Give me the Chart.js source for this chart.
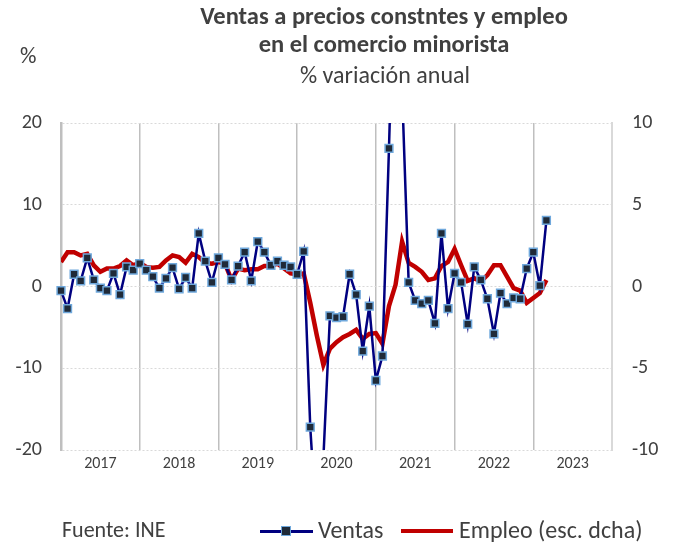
<!DOCTYPE html>
<html>
<head>
<meta charset="utf-8">
<script src="https://cdn.jsdelivr.net/npm/chart.js@4"></script>
<style>
  body { margin: 0; background: #fff; }
  #wrap { position: relative; width: 675px; height: 544px; font-family: Carlito, Calibri, Lato, sans-serif; color: #404040; }
  .txt { position: absolute; white-space: nowrap; line-height: 1; }
  .lg-line { position: absolute; height: 3px; }
</style>
</head>
<body>
<div id="wrap">
  <canvas id="myCanvas" width="675" height="544"></canvas>
  <div class="txt" style="left:0;width:768px;text-align:center;top:4px;font-size:24.5px;font-weight:bold;">Ventas a precios constntes y empleo</div>
  <div class="txt" style="left:0;width:768px;text-align:center;top:32px;font-size:24.5px;font-weight:bold;">en el comercio minorista</div>
  <div class="txt" style="left:0;width:770px;text-align:center;top:63px;font-size:24px;">% variación anual</div>
  <div class="txt" style="left:20px;top:44px;font-size:23px;">%</div>
  <div class="txt" style="left:62px;top:519px;font-size:22px;">Fuente: INE</div>
  <div class="lg-line" style="left:260px;top:530px;width:53px;background:#000080;"></div>
  <div style="position:absolute;left:281px;top:526px;width:8px;height:8px;background:#1f2a38;border:1.5px solid #6fa8dc;"></div>
  <div class="txt" style="left:318px;top:518px;font-size:24px;">Ventas</div>
  <div class="lg-line" style="left:401px;top:529px;width:52px;height:4px;background:#c00000;"></div>
  <div class="txt" style="left:459px;top:518px;font-size:24px;">Empleo (esc. dcha)</div>
</div>
<script>
// % variación anual, mensual desde enero 2017 hasta marzo 2023
const years = ['2017', '2018', '2019', '2020', '2021', '2022', '2023'];

const ventas = [
  -0.5, -2.7, 1.5, 0.7, 3.5, 0.8, -0.2, -0.5, 1.6, -1.0, 2.4, 2.0,
  2.8, 2.0, 1.2, -0.2, 1.0, 2.3, -0.3, 1.1, -0.2, 6.5, 3.1, 0.5,
  3.5, 2.7, 0.8, 2.5, 4.2, 0.7, 5.5, 4.2, 2.6, 3.1, 2.6, 2.4,
  1.5, 4.3, -17.2, -30.0, -21.0, -3.6, -3.8, -3.7, 1.5, -1.0, -7.9, -2.4,
  -11.5, -8.5, 16.9, 45.0, 24.0, 0.5, -1.7, -2.1, -1.7, -4.5, 6.5, -2.7,
  1.6, 0.5, -4.6, 2.4, 0.8, -1.5, -5.8, -0.8, -2.1, -1.4, -1.5, 2.2,
  4.2, 0.1, 8.1
];

// escala derecha
const empleo = [
  1.5, 2.1, 2.1, 1.9, 2.0, 1.3, 0.9, 1.1, 1.1, 1.25, 1.6, 1.3,
  1.45, 1.2, 1.15, 1.2, 1.6, 1.9, 1.8, 1.45, 2.0, 1.8, 1.45, 1.4,
  1.5, 1.4, 0.4, 1.1, 1.0, 1.05, 1.05, 1.25, 1.25, 1.4, 1.1, 0.8,
  0.75, 0.8, -1.0, -3.0, -4.8, -3.8, -3.4, -3.1, -2.9, -2.65, -3.2, -2.9,
  -2.85, -3.5, -1.2, 0.1, 2.75, 1.45, 1.2, 0.9, 0.4, 0.5, 1.25, 1.5,
  2.3, 1.3, 0.35, 0.5, 0.3, 0.7, 1.3, 1.3, 0.6, -0.1, -0.25, -1.0,
  -0.7, -0.4, 0.4
];

const leftTicks = [-20, -10, 0, 10, 20];
const rightTicks = [-10, -5, 0, 5, 10];

const fontFam = 'Carlito, Calibri, Lato, sans-serif';
const ctx = document.getElementById('myCanvas').getContext('2d');

new Chart(ctx, {
  type: 'line',
  data: {
    datasets: [{
      label: 'Ventas',
      data: ventas.map((v, i) => ({ x: i, y: v })),
      yAxisID: 'y',
      borderColor: '#000080',
      borderWidth: 2.5,
      pointStyle: 'rect',
      pointRadius: 5.5,
      pointBackgroundColor: '#1f2a38',
      pointBorderColor: '#6fa8dc',
      pointBorderWidth: 1.5,
      tension: 0,
      clip: { left: 8, right: 8, top: 0, bottom: 0 },
      order: 1
    }, {
      label: 'Empleo (esc. dcha)',
      data: empleo.map((v, i) => ({ x: i, y: v })),
      yAxisID: 'y2',
      borderColor: '#c00000',
      borderWidth: 4.5,
      pointRadius: 0,
      tension: 0,
      order: 2
    }]
  },
  options: {
    responsive: false,
    animation: false,
    devicePixelRatio: 1,
    layout: { padding: { top: 123, left: 0, right: 0, bottom: 0 } },
    plugins: { legend: { display: false }, tooltip: { enabled: false } },
    scales: {
      x: {
        type: 'linear',
        min: 0,
        max: 84,
        afterBuildTicks: axis => {
          const t = [];
          for (let v = 0; v <= 84; v += 6) t.push({ value: v });
          axis.ticks = t;
        },
        afterFit: s => { s.height = 94; },
        ticks: {
          autoSkip: false,
          maxRotation: 0,
          padding: 4,
          color: '#404040',
          font: { family: fontFam, size: 16 },
          callback: v => (v % 12 === 6 ? years[(v - 6) / 12] : '')
        },
        grid: {
          drawTicks: false,
          lineWidth: 1.5,
          color: c => (c.tick && c.tick.value % 12 === 0 ? '#bfbfbf' : 'rgba(0,0,0,0)')
        },
        border: { display: false }
      },
      y: {
        position: 'left',
        min: -20,
        max: 20,
        afterBuildTicks: axis => { axis.ticks = leftTicks.map(v => ({ value: v })); },
        afterFit: s => { s.width = 61; },
        ticks: { padding: 19, color: '#404040', font: { family: fontFam, size: 20 } },
        grid: { drawTicks: false, color: '#d9d9d9', lineWidth: 1 },
        border: { display: true, color: '#bfbfbf', width: 2.5, dash: [2, 2] }
      },
      y2: {
        position: 'right',
        min: -10,
        max: 10,
        afterBuildTicks: axis => { axis.ticks = rightTicks.map(v => ({ value: v })); },
        afterFit: s => { s.width = 63; },
        ticks: { padding: 20, color: '#404040', font: { family: fontFam, size: 20 } },
        grid: { display: false, drawTicks: false },
        border: { display: true, color: '#d9d9d9', width: 2 }
      }
    }
  }
});
</script>
</body>
</html>
